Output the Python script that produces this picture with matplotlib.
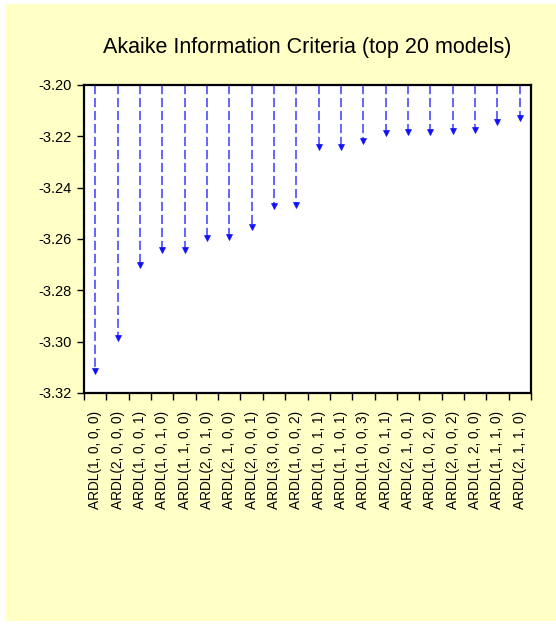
import matplotlib.pyplot as plt
from matplotlib.patches import Rectangle

plt.rcParams['font.family'] = ['Liberation Sans', 'DejaVu Sans']

# top 20 ARDL models and their AIC values
models = ['ARDL(1, 0, 0, 0)', 'ARDL(2, 0, 0, 0)', 'ARDL(1, 0, 0, 1)', 'ARDL(1, 0, 1, 0)',
          'ARDL(1, 1, 0, 0)', 'ARDL(2, 0, 1, 0)', 'ARDL(2, 1, 0, 0)', 'ARDL(2, 0, 0, 1)',
          'ARDL(3, 0, 0, 0)', 'ARDL(1, 0, 0, 2)', 'ARDL(1, 0, 1, 1)', 'ARDL(1, 1, 0, 1)',
          'ARDL(1, 0, 0, 3)', 'ARDL(2, 0, 1, 1)', 'ARDL(2, 1, 0, 1)', 'ARDL(1, 0, 2, 0)',
          'ARDL(2, 0, 0, 2)', 'ARDL(1, 2, 0, 0)', 'ARDL(1, 1, 1, 0)', 'ARDL(2, 1, 1, 0)']
aic = [-3.3120, -3.2990, -3.2705, -3.2645, -3.2645, -3.2600, -3.2595, -3.2556,
       -3.2476, -3.2473, -3.2246, -3.2246, -3.2221, -3.2192, -3.2188, -3.2188,
       -3.2182, -3.2179, -3.2147, -3.2131]
yticks = [-3.20, -3.22, -3.24, -3.26, -3.28, -3.30, -3.32]

fig = plt.figure(figsize=(5.56, 6.27), dpi=100)
fig.patches.append(Rectangle((5 / 556, 6 / 627), 1, 617 / 627, transform=fig.transFigure,
                             facecolor='#FFFFC6', edgecolor='none', zorder=-10))

ax = fig.add_axes([84 / 556, 1 - 393 / 627, 447 / 556, 308 / 627])
ax.set_facecolor('white')

top = yticks[0]
for i, v in enumerate(aic):
    ax.plot([i, i], [top, v + 0.0008], color='#3c3cFF', lw=1.1, dashes=(6, 2.5))
    ax.plot(i, v + 0.0004, marker='v', color='#1010FF', markersize=4, markeredgewidth=0.5)

ax.set_xlim(-0.5, len(models) - 0.5)
ax.set_ylim(yticks[-1], yticks[0])
ax.set_yticks(yticks)
ax.set_yticklabels(['%.2f' % t for t in yticks], fontsize=10.5)

ax.set_xticks([i + 0.5 for i in range(-1, len(models))])
ax.set_xticklabels([])
ax.set_xticks(range(len(models)), minor=True)
ax.set_xticklabels(models, minor=True, rotation=90, fontsize=9.8)
ax.tick_params(axis='x', which='minor', length=0, pad=13)
ax.tick_params(axis='x', which='major', length=5, width=1)
ax.tick_params(axis='y', length=5, width=1, pad=4)
for s in ax.spines.values():
    s.set_linewidth(1.6)

fig.text(307.5 / 556, 1 - 48 / 627, 'Akaike Information Criteria (top 20 models)',
         ha='center', va='center', fontsize=15.5)

fig.savefig('out.png', dpi=100)
